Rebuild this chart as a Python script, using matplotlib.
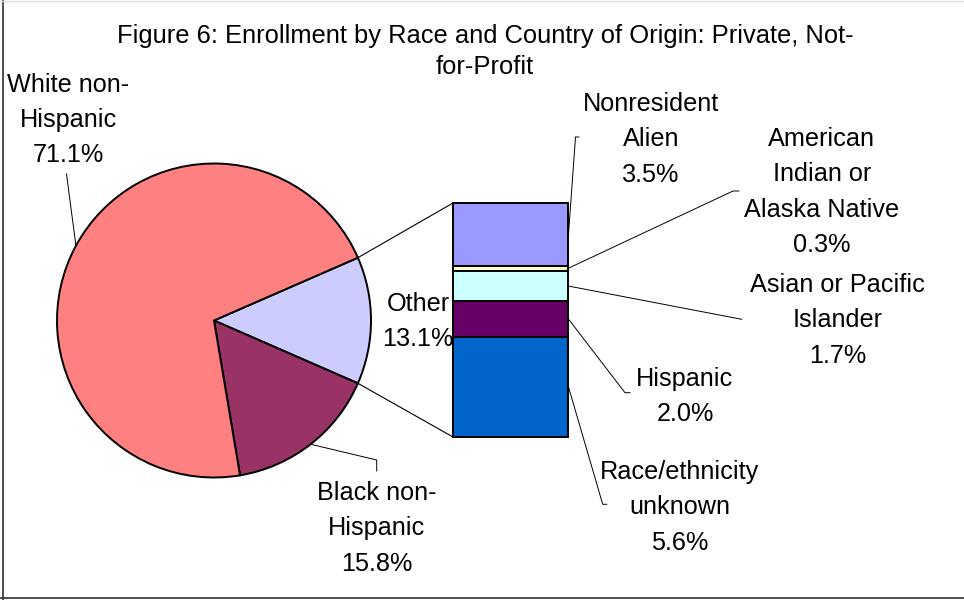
import numpy as np
import matplotlib
matplotlib.use("Agg")
import matplotlib.pyplot as plt

plt.rcParams['font.family'] = ['Liberation Sans', 'DejaVu Sans']

# pie slices, in drawing order (clockwise from the "Other" slice)
pie_labels = ["Other", "Black non-\nHispanic", "White non-\nHispanic"]
pie_values = [13.1, 15.8, 71.1]
pie_colors = ["#CCCCFF", "#993366", "#FF8080"]

# breakdown of "Other", stacked top to bottom
bar_labels = ["Nonresident\nAlien", "American\nIndian or\nAlaska Native",
              "Asian or Pacific\nIslander", "Hispanic", "Race/ethnicity\nunknown"]
bar_values = [3.5, 0.3, 1.7, 2.0, 5.6]
bar_colors = ["#9999FF", "#FFFFCC", "#CCFFFF", "#660066", "#0066CC"]

title = "Figure 6: Enrollment by Race and Country of Origin: Private, Not-\nfor-Profit"

W, H = 964, 600
fig = plt.figure(figsize=(W / 100, H / 100), dpi=100)
ax = fig.add_axes([0, 0, 1, 1])

# pie
cx, cy, r = 214, 279.5, 157
start = pie_values[0] / sum(pie_values) * 360 / 2
wedges, _ = ax.pie(pie_values, colors=pie_colors, center=(cx, cy), radius=r,
                   startangle=start, counterclock=False,
                   wedgeprops=dict(edgecolor="black", linewidth=1.4))

# stacked bar for "Other"
bx, bw, btop, bh = 510.5, 115, 397, 234
scale = bh / sum(bar_values)
heights = np.array(bar_values) * scale
bottoms = btop - np.cumsum(heights)
ax.bar([bx] * len(bar_values), heights, bottom=bottoms, width=bw,
       color=bar_colors, edgecolor="black", linewidth=1.4, zorder=3)
bbot = bottoms[-1]

# connector lines between the "Other" slice and the bar
half = np.deg2rad(start)
for sgn, yb in [(1, btop), (-1, bbot)]:
    px, py = cx + r * np.cos(half), cy + sgn * r * np.sin(half)
    ax.plot([px, bx - bw / 2], [py, yb], color="black", lw=0.8, zorder=2)

fs = 18.2
ls = 1.6
dy = -2.5  # small nudge so text sits like Excel's baseline

# pie labels and leader lines (leaders start at wedge mid-angle)
mids = [(w.theta1 + w.theta2) / 2 for w in wedges]
pie_text_pos = [(418, 281), (376.7, 74), (68, 482.5)]
pie_leaders = [None, [(376.7, 140), (376.7, 129)], [(66.5, 426)]]
for lab, val, m, (tx, ty), lead in zip(pie_labels, pie_values, mids, pie_text_pos, pie_leaders):
    ax.text(tx, ty + dy, f"{lab}\n{val:.1f}%", ha="center", va="center",
            fontsize=fs, linespacing=ls)
    if lead:
        a = np.deg2rad(m)
        pts = [(cx + r * np.cos(a), cy + r * np.sin(a))] + lead
        xs, ys = zip(*pts)
        ax.plot(xs, ys, color="black", lw=0.7)

# bar labels and leader lines (leaders start at segment middles)
bar_text_pos = [(651, 463), (821.7, 410.4), (837.5, 282.2), (685, 205.8), (680, 95)]
bar_leaders = [[(575.5, 463), (579, 463)],
               [(733, 409), (739, 409)],
               [(741.7, 280.7)],
               [(625, 207.3), (630, 207.3)],
               [(602.7, 95.7), (606.7, 95.7)]]
xr = bx + bw / 2 + 0.5
for lab, val, b, h, (tx, ty), lead in zip(bar_labels, bar_values, bottoms, heights,
                                         bar_text_pos, bar_leaders):
    ax.text(tx, ty + dy, f"{lab}\n{val:.1f}%", ha="center", va="center",
            fontsize=fs, linespacing=ls)
    pts = [(xr, b + h / 2)] + lead
    xs, ys = zip(*pts)
    ax.plot(xs, ys, color="black", lw=0.7, zorder=4)

ax.text(485, 551 + dy, title, ha="center", va="center", fontsize=18.4, linespacing=1.32)

# chart frame
ax.plot([2.5, 2.5], [0, H], color="#404040", lw=1.3)
ax.plot([0, W], [2.2, 2.2], color="#404040", lw=1.3)
ax.plot([0, W], [H - 0.5, H - 0.5], color="#dddddd", lw=1)

ax.set_xlim(0, W)
ax.set_ylim(0, H)
ax.axis("off")

fig.savefig("out.png", dpi=100)
